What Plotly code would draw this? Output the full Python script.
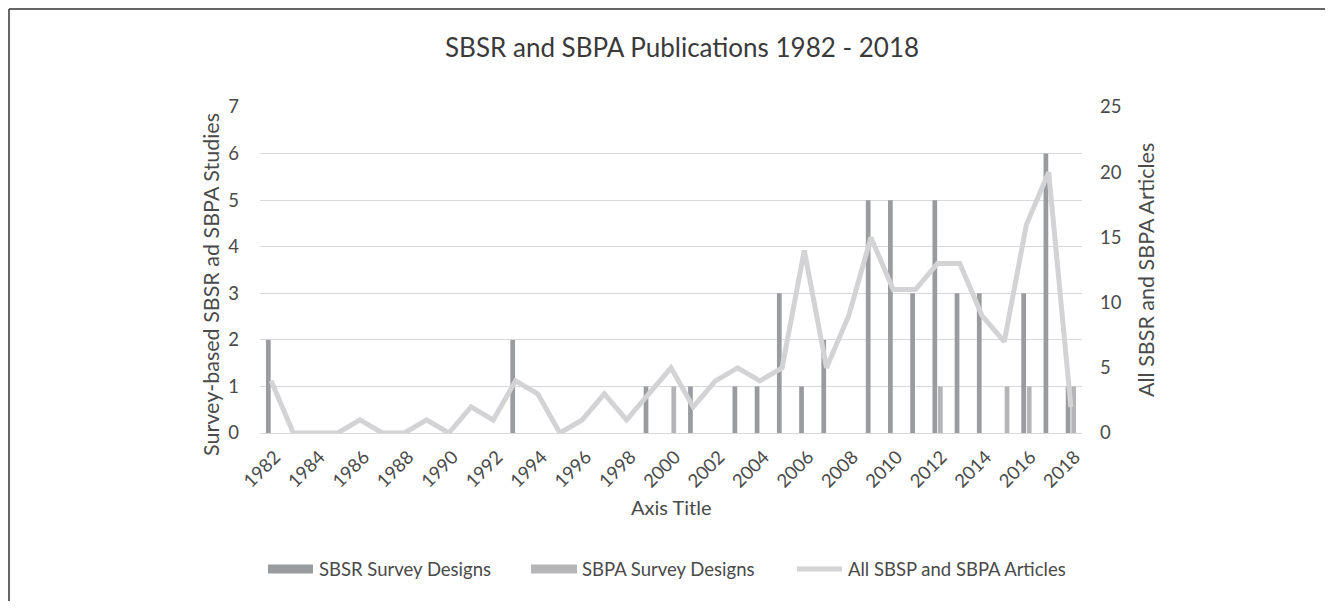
import plotly.graph_objects as go

years = [str(y) for y in range(1982, 2019)]
sbsr = [2, 0, 0, 0, 0, 0, 0, 0, 0, 0, 0, 2, 0, 0, 0, 0, 0, 1, 0, 1,
        0, 1, 1, 3, 1, 2, 0, 5, 5, 3, 5, 3, 3, 0, 3, 6, 1]
sbpa = [0, 0, 0, 0, 0, 0, 0, 0, 0, 0, 0, 0, 0, 0, 0, 0, 0, 0, 1, 0,
        0, 0, 0, 0, 0, 0, 0, 0, 0, 0, 1, 0, 0, 1, 1, 0, 1]
articles = [4, 0, 0, 0, 1, 0, 0, 1, 0, 2, 1, 4, 3, 0, 1, 3, 1, 3, 5, 2,
            4, 5, 4, 5, 14, 5, 9, 15, 11, 11, 13, 13, 9, 7, 16, 20, 2]
tick_years = years[::2]
series_names = ["SBSR Survey Designs", "SBPA Survey Designs", "All SBSP and SBPA Articles"]

OFF = 8  # page body margin
W, H = 1333 - 2 * OFF, 609 - 2 * OFF
L, R, T, B = 260, 1082, 107, 433  # plot area in page pixels
Lf, Rf, Tf, Bf = L - OFF, R - OFF, T - OFF, B - OFF

def px(x):
    return (x - OFF - Lf) / (Rf - Lf)

def py(y):
    return (Bf - (y - OFF)) / (Bf - Tf)

FONT = "Lato"
TXT = "#4a4a4a"
C_SBSR = "#9a9b9f"
C_SBPA = "#b5b5b8"
C_LINE = "#d3d3d5"

fig = go.Figure()
fig.add_trace(go.Bar(x=years, y=sbsr, name=series_names[0],
                     marker=dict(color=C_SBSR, line=dict(width=0))))
fig.add_trace(go.Bar(x=years, y=sbpa, name=series_names[1],
                     marker=dict(color=C_SBPA, line=dict(width=0))))
fig.add_trace(go.Scatter(x=years, y=articles, name=series_names[2],
                         yaxis="y2", mode="lines",
                         line=dict(color=C_LINE, width=5)))

fig.update_layout(
    width=W, height=H,
    margin=dict(l=Lf, r=W - Rf, t=Tf, b=H - Bf),
    paper_bgcolor="white", plot_bgcolor="white",
    barmode="group", bargap=0.5, bargroupgap=0.15,
    font=dict(family=FONT, color=TXT, size=18),
    showlegend=False,
    xaxis=dict(type="category", tickmode="array", tickvals=tick_years, ticktext=tick_years,
               tickangle=-45, showgrid=False, showline=True, linecolor="#d9d9d9",
               ticks="", tickfont=dict(size=18.5, color=TXT), range=[-0.5, 36.5],
               ticklabelstandoff=5, ticklabelshift=4),
    yaxis=dict(range=[0, 7], dtick=1, showgrid=True, gridcolor="#d9d9d9", gridwidth=1,
               zeroline=False, ticks="", showline=False, ticklabelstandoff=20,
               tickfont=dict(size=18.5, color=TXT)),
    yaxis2=dict(range=[0, 25], dtick=5, overlaying="y", side="right", showgrid=False,
                zeroline=False, ticks="", showline=False, ticklabelstandoff=17,
                tickfont=dict(size=18.5, color=TXT)),
)

fig.add_annotation(text="SBSR and SBPA Publications 1982 - 2018", xref="paper", yref="paper",
                   x=px(682), y=py(47), showarrow=False, font=dict(size=26, color="#3a3a3a"),
                   xanchor="center", yanchor="middle")
fig.add_annotation(text="Survey-based SBSR ad SBPA Studies", xref="paper", yref="paper",
                   x=px(211), y=py(285), showarrow=False, textangle=-90,
                   font=dict(size=21.5, color=TXT), xanchor="center", yanchor="middle")
fig.add_annotation(text="All SBSR and SBPA Articles", xref="paper", yref="paper",
                   x=px(1146), y=py(270), showarrow=False, textangle=-90,
                   font=dict(size=21.5, color=TXT), xanchor="center", yanchor="middle")
fig.add_annotation(text="Axis Title", xref="paper", yref="paper",
                   x=px(671), y=py(507), showarrow=False,
                   font=dict(size=20, color=TXT), xanchor="center", yanchor="middle")

# legend (drawn manually to match the reference spacing)
LEG_Y = 569
fig.add_shape(type="rect", xref="paper", yref="paper", x0=px(268), x1=px(313),
              y0=py(LEG_Y - 4.5), y1=py(LEG_Y + 4.5), fillcolor=C_SBSR, line=dict(width=0))
fig.add_annotation(text=series_names[0], xref="paper", yref="paper", x=px(317), y=py(LEG_Y),
                   showarrow=False, xanchor="left", yanchor="middle", font=dict(size=18.5, color=TXT))
fig.add_shape(type="rect", xref="paper", yref="paper", x0=px(531), x1=px(577),
              y0=py(LEG_Y - 4.5), y1=py(LEG_Y + 4.5), fillcolor=C_SBPA, line=dict(width=0))
fig.add_annotation(text=series_names[1], xref="paper", yref="paper", x=px(580), y=py(LEG_Y),
                   showarrow=False, xanchor="left", yanchor="middle", font=dict(size=18.5, color=TXT))
fig.add_shape(type="line", xref="paper", yref="paper", x0=px(797), x1=px(842),
              y0=py(LEG_Y), y1=py(LEG_Y), line=dict(color=C_LINE, width=5))
fig.add_annotation(text=series_names[2], xref="paper", yref="paper", x=px(846), y=py(LEG_Y),
                   showarrow=False, xanchor="left", yanchor="middle", font=dict(size=18.5, color=TXT))

# chart border
fig.add_shape(type="line", xref="paper", yref="paper", x0=px(9), x1=px(1345), y0=py(9), y1=py(9),
              line=dict(color="#333333", width=1.5))
fig.add_shape(type="line", xref="paper", yref="paper", x0=px(9), x1=px(9), y0=py(9), y1=py(620),
              line=dict(color="#333333", width=1.5))

fig.write_html("out.html")
